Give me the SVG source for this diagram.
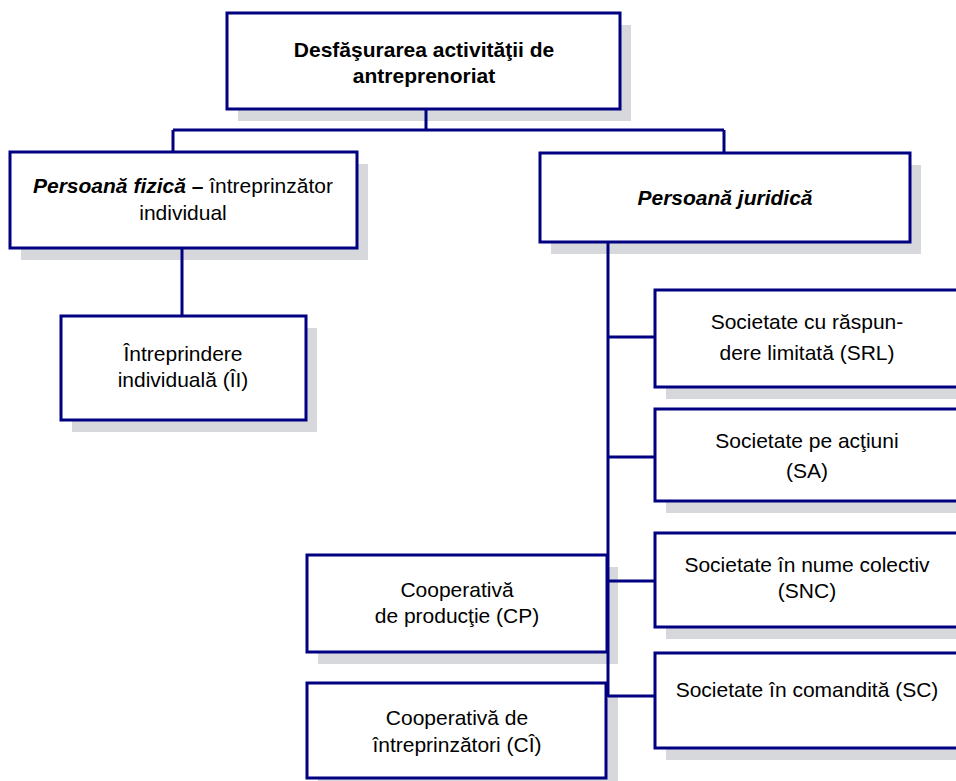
<svg xmlns="http://www.w3.org/2000/svg" width="956" height="781" viewBox="0 0 956 781">
<style>
.sh{fill:#d7d8dc;stroke:none}
.bx{fill:#ffffff;stroke:#000080;stroke-width:3}
.ln{fill:none;stroke:#000080;stroke-width:3}
text{font-family:"Liberation Sans",Arial,sans-serif;font-size:21px;fill:#000;text-anchor:middle}
.b{font-weight:bold}
.bi{font-weight:bold;font-style:italic}
</style>
<rect width="956" height="781" fill="#ffffff"/>
<g id="n-root">
<rect class="sh" x="238" y="25" width="393" height="96"/>
<rect class="bx" x="227" y="13" width="393" height="96"/>
<text class="b" x="424" y="57">Desfăşurarea activităţii de</text>
<text class="b" x="424" y="83">antreprenoriat</text>
</g>
<g id="n-pf">
<rect class="sh" x="21" y="164" width="347" height="96"/>
<rect class="bx" x="10" y="152" width="347" height="96"/>
<text x="183" y="193"><tspan class="bi">Persoană fizică –</tspan> întreprinzător</text>
<text x="183" y="220">individual</text>
</g>
<g id="n-pj">
<rect class="sh" x="551" y="165" width="370" height="89"/>
<rect class="bx" x="540" y="153" width="370" height="89"/>
<text class="bi" x="725" y="205">Persoană juridică</text>
</g>
<g id="n-ii">
<rect class="sh" x="72" y="328" width="245" height="104"/>
<rect class="bx" x="61" y="316" width="245" height="104"/>
<text x="183" y="361">Întreprindere</text>
<text x="183" y="387">individuală (ÎI)</text>
</g>
<g id="n-srl">
<rect class="sh" x="666" y="302" width="304" height="97"/>
<rect class="bx" x="655" y="290" width="304" height="97"/>
<text x="807" y="329">Societate cu răspun-</text>
<text x="807" y="360">dere limitată (SRL)</text>
</g>
<g id="n-sa">
<rect class="sh" x="666" y="421" width="304" height="92"/>
<rect class="bx" x="655" y="409" width="304" height="92"/>
<text x="807" y="448">Societate pe acţiuni</text>
<text x="807" y="478">(SA)</text>
</g>
<g id="n-snc">
<rect class="sh" x="666" y="545" width="304" height="94"/>
<rect class="bx" x="655" y="533" width="304" height="94"/>
<text x="807" y="572">Societate în nume colectiv</text>
<text x="807" y="598">(SNC)</text>
</g>
<g id="n-sc">
<rect class="sh" x="666" y="665" width="304" height="95"/>
<rect class="bx" x="655" y="653" width="304" height="95"/>
<text x="807" y="697">Societate în comandită (SC)</text>
</g>
<g id="n-cp">
<rect class="sh" x="318" y="567" width="300" height="97"/>
<rect class="bx" x="307" y="555" width="300" height="97"/>
<text x="457" y="597">Cooperativă</text>
<text x="457" y="623">de producţie (CP)</text>
</g>
<g id="n-ci">
<rect class="sh" x="318" y="695" width="300" height="96"/>
<rect class="bx" x="307" y="683" width="299" height="95"/>
<text x="457" y="725">Cooperativă de</text>
<text x="457" y="752">întreprinzători (CÎ)</text>
</g>
<g id="connectors">
<path class="ln" d="M426 109V130M173 130H724M173 130V153M724 130V153M182 248V316M608 242V697M608 337H655M608 457H655M608 581H655M608 696H655"/>
</g>
</svg>
